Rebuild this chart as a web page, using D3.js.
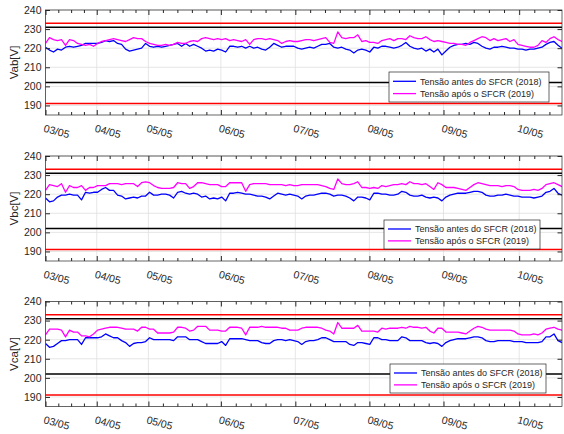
<!DOCTYPE html>
<html>
<head>
<meta charset="utf-8">
<script src="https://cdn.jsdelivr.net/npm/d3@7"></script>
<style>
  body { margin: 0; background: #fff; }
  text { font-family: "Liberation Sans", Arial, sans-serif; fill: #262626; }
</style>
</head>
<body>
<script>
// day tick labels and where they fall on the sample index axis
const dayLabels = ['03/05', '04/05', '05/05', '06/05', '07/05', '08/05', '09/05', '10/05'];
const dayTicks = [0, 12.8, 25.7, 43.8, 62.4, 80.9, 99.4, 118.3];
const yTicks = [190, 200, 210, 220, 230, 240];

// PRODIST limits
const redLimits = [191, 233];
const blackLimits = [202, 231];

const legendNames = ['Tensão antes do SFCR (2018)', 'Tensão após o SFCR (2019)'];

// Vab
const vabBefore = [220.5,219,218,219.5,219,220.5,221,220.5,221,221.5,222.5,222.5,222.5,222.5,223,224,223.5,224,222.5,222,
  219.5,218.5,219,219.5,220,222.5,221,220.5,221,220.5,221,221.5,222,222.5,221,222.5,221,222,221,220,
  218.5,219,218.5,219.5,219,218,221,221,220.5,221,220,221,220,220.5,219.5,219,220.5,222.5,221.5,220.5,
  221,221,221,220,219.5,220,220.5,220,221,222,222,222.5,220.5,220,220.5,219.5,219,217.5,219,219.5,
  219,218,220.5,220,221,221,220.5,220,220.5,221.5,223,221,220,219.5,220,218.5,219.5,218,219.5,216.5,
  218.5,220.5,221.5,222,222,222.5,222,223,222.5,221,220,219.5,220.5,220.5,221,220.5,220,220,219.5,219.5,
  219,219.5,219.5,220,220.5,222,223,223.5,221.5,220];
const vabAfter = [222.5,225.5,224.5,224,224.5,221.5,224.5,224,222.5,222,221.5,222,221,222.5,223.5,224,224.5,225,224.5,224,
  223.5,224.5,225.5,225,225,223.5,222.5,222,221.5,221.5,222,221.5,222,223,222.5,222.5,223.5,224,223.5,225,
  225.5,225,224.5,225,224.5,225,224,224.5,224,223.5,224.5,222,224.5,225,225,224.5,225,224.5,224,222.5,
  223.5,224,223.5,223.5,224,224.5,224.5,224,224.5,225,225.5,223,222.5,228.5,225.5,225,225.5,225.5,227,223.5,
  224,223,223,222.5,224,224.5,225,224,225,225,224.5,226.5,225.5,225,225,226,224.5,223.5,224,223.5,
  223,222.5,222.5,222,222,221.5,223,224,225,226,225.5,224,225,224,224.5,225,223.5,224.5,222,221.5,
  221,220.5,220.5,221.5,224,223,225,226,224.5,223.5];

// Vbc
const vbcBefore = [218,216,216.5,218.5,219.5,219.5,220,219.5,219.5,217,221,220.5,221,221,222.5,223.5,222,222,219.5,219,
  217.5,218,218.5,218,219,219,221,219.5,219.5,220,220,219.5,218,221,221.5,220.5,220,220.5,220,218.5,
  219,217.5,218,217.5,218.5,216.5,220.5,220.5,221,220.5,220,220,219.5,219,219,218.5,217.5,219,220.5,220,
  219.5,220,219.5,219,217.5,219,219.5,219.5,220,220.5,220.5,220,219,219.5,219.5,219,218,216.5,218.5,218.5,
  218,217,220.5,220.5,220,220,219.5,219.5,220,221.5,221,219.5,219,219,219.5,218.5,218,218.5,218,216.5,
  218.5,219.5,220,220.5,220.5,220.5,221,221.5,221.5,221,219.5,219,219,219.5,219.5,220,219.5,219,219,218.5,
  218.5,218.5,218,218.5,219,221,221.5,223,220.5,219.5];
const vbcAfter = [222,225,224.5,224,225.5,221,224.5,223.5,223.5,224.5,222,223.5,223.5,224.5,224.5,224.5,225.5,225.5,225.5,225,
  225.5,225.5,225.5,224,226,226.5,226,224.5,223.5,223,223,223,223.5,226,225.5,225.5,223,224,226,226,
  225.5,225,225,225,224,224,226,226,226,226,221.5,225,225.5,225.5,225.5,225.5,225,225,225,225,
  224.5,225,224.5,224.5,225,225,225,225,225,224.5,224,223,222.5,228,225.5,225,225,225.5,226.5,223.5,
  223.5,223,223.5,223,224.5,224,224.5,225,225,225.5,225,226.5,225.5,225.5,225,225.5,224,222.5,226,225,
  223.5,223.5,223.5,223,222.5,222,223.5,225,226,225.5,225,224.5,224.5,224.5,224,224.5,224.5,224,222.5,222,
  222,222,222.5,222,223,225,225.5,226,225,224];

// Vca
const vcaBefore = [218,216,216.5,218,219.5,219.5,220,220,220,217.5,221,221,221,221,221.5,223,222,221,221,219.5,
  218.5,216.5,218,218.5,218.5,219,221,220,220,220,220,220,219.5,221.5,221.5,221.5,220,220,220,219,
  218,218,218,218,219,217,220.5,220.5,220.5,220.5,220,219.5,219.5,219.5,218.5,218,218,219.5,220,220,
  219.5,220,219.5,219,217.5,219,219.5,219.5,220,221,221,220,219,219,219,219,217.5,217,218.5,218.5,
  218,217.5,221,221,220,220,219.5,219.5,219.5,221.5,221,219.5,219.5,219.5,219.5,218.5,218,218.5,218,216.5,
  218.5,219.5,220,220.5,220.5,220.5,221,221.5,221.5,221,219.5,219,219,219.5,219.5,219.5,219.5,219,219,219,
  218.5,218.5,218.5,218.5,219,221.5,221.5,223,219.5,218.5];
const vcaAfter = [222.5,225.5,225.5,225.5,225,221.5,225,224,224,222,222,221.5,223,225,225.5,226,226.5,226.5,226.5,226,
  225.5,225.5,225.5,224.5,226.5,226.5,225.5,225.5,223.5,223.5,223.5,223.5,224,226.5,226.5,226,224.5,225,227,227,
  227,225,225,225,224.5,224.5,226.5,226.5,226.5,226,222.5,226.5,226.5,226.5,227,226.5,226.5,226.5,226.5,226,
  226,225,225,225,226,226.5,226.5,226.5,226.5,226,225,224.5,223,229,226,226,226,226,227.5,224.5,
  224.5,224.5,224.5,224,226,225.5,226,226,226,226.5,226,227,226.5,226.5,226,226.5,224.5,223.5,226,226,
  224,224,224,224,223.5,223,224.5,226,227,226.5,225.5,225,225,225,225,225,225,224.5,223,222.5,
  222.5,222.5,223,222.5,223.5,225.5,226,226.5,225.5,225];

const panels = [
  { name: 'Vab[V]', before: vabBefore, after: vabAfter, top: 10, legend: { x: 389, y: 72, w: 160, h: 30 } },
  { name: 'Vbc[V]', before: vbcBefore, after: vbcAfter, top: 156, legend: { x: 384, y: 220, w: 156, h: 29 } },
  { name: 'Vca[V]', before: vcaBefore, after: vcaAfter, top: 301.5, legend: { x: 390, y: 364, w: 156, h: 29 } }
];

const width = 564, height = 434;
const left = 45.5, right = 562, plotH = 105;
const axisColor = '#262626';
const colors = ['#0000ff', '#ff00ff'];

const svg = d3.select('body').append('svg')
  .attr('width', width)
  .attr('height', height);

const x = d3.scaleLinear().domain([0, vabBefore.length - 1]).range([left, right]);

// minor ticks: split each day into 4 or 5 steps like the original
let minorTicks = [];
for (let i = 0; i < dayTicks.length - 1; i++) {
  const n = (x(dayTicks[i + 1]) - x(dayTicks[i])) < 60 ? 4 : 5;
  const step = (dayTicks[i + 1] - dayTicks[i]) / n;
  for (let k = 1; k < n; k++) minorTicks.push(dayTicks[i] + k * step);
}
const lastStep = (dayTicks[7] - dayTicks[6]) / 5;
for (let v = dayTicks[7] + lastStep; v < x.domain()[1]; v += lastStep) minorTicks.push(v);

panels.forEach((p, pi) => {
  const top = p.top, bottom = top + plotH;
  const y = d3.scaleLinear().domain([185, 240]).range([bottom, top]);
  const g = svg.append('g');

  g.append('clipPath').attr('id', 'clip' + pi)
    .append('rect').attr('x', left).attr('y', top).attr('width', right - left).attr('height', plotH);

  // grid
  g.selectAll('.gy').data(yTicks).enter().append('line')
    .attr('x1', left).attr('x2', right)
    .attr('y1', d => y(d)).attr('y2', d => y(d))
    .attr('stroke', '#dfdfdf').attr('stroke-width', 0.8);
  g.selectAll('.gx').data(dayTicks).enter().append('line')
    .attr('x1', d => x(d)).attr('x2', d => x(d))
    .attr('y1', top).attr('y2', bottom)
    .attr('stroke', '#dfdfdf').attr('stroke-width', 0.8);

  // limits
  blackLimits.forEach(v => {
    g.append('line').attr('x1', left).attr('x2', right).attr('y1', y(v)).attr('y2', y(v))
      .attr('stroke', '#000').attr('stroke-width', 1.5);
  });
  redLimits.forEach(v => {
    g.append('line').attr('x1', left).attr('x2', right).attr('y1', y(v)).attr('y2', y(v))
      .attr('stroke', '#ff0000').attr('stroke-width', 1.5);
  });

  const line = d3.line().x((d, i) => x(i)).y(d => y(d));
  [p.before, p.after].forEach((s, si) => {
    g.append('path').datum(s)
      .attr('clip-path', `url(#clip${pi})`)
      .attr('fill', 'none')
      .attr('stroke', colors[si])
      .attr('stroke-width', 1.3)
      .attr('stroke-linejoin', 'round')
      .attr('d', line);
  });

  // axes with ticks pointing in
  g.append('g').attr('transform', `translate(${left},0)`)
    .call(d3.axisLeft(y).tickValues(yTicks).tickSize(-4.5).tickPadding(4))
    .call(a => a.select('.domain').remove())
    .call(a => a.selectAll('line').attr('stroke', axisColor))
    .call(a => a.selectAll('text').attr('font-size', 10.5).attr('fill', axisColor)
      .style('font-family', '"Liberation Sans", Arial, sans-serif'));
  g.append('g').attr('transform', `translate(${right},0)`)
    .call(d3.axisRight(y).tickValues(yTicks).tickSize(-4.5).tickFormat(''))
    .call(a => a.select('.domain').remove())
    .call(a => a.selectAll('line').attr('stroke', axisColor));

  [[bottom, d3.axisBottom], [top, d3.axisTop]].forEach(([yy, ax]) => {
    g.append('g').attr('transform', `translate(0,${yy})`)
      .call(ax(x).tickValues(dayTicks).tickSize(-5).tickFormat(''))
      .call(a => a.select('.domain').remove())
      .call(a => a.selectAll('line').attr('stroke', axisColor));
    g.append('g').attr('transform', `translate(0,${yy})`)
      .call(ax(x).tickValues(minorTicks).tickSize(-3).tickFormat(''))
      .call(a => a.select('.domain').remove())
      .call(a => a.selectAll('line').attr('stroke', axisColor));
  });

  // rotated day labels
  g.selectAll('.xl').data(dayTicks).enter().append('text')
    .attr('transform', d => `translate(${x(d) - 2.5},${bottom + 16.5}) rotate(15)`)
    .attr('font-size', 10.5)
    .text((d, i) => dayLabels[i]);

  g.append('rect')
    .attr('x', left).attr('y', top).attr('width', right - left).attr('height', plotH)
    .attr('fill', 'none').attr('stroke', axisColor).attr('stroke-width', 0.7);

  g.append('text')
    .attr('transform', `translate(17.5,${(top + bottom) / 2}) rotate(-90)`)
    .attr('text-anchor', 'middle')
    .attr('font-size', 11.5)
    .text(p.name);

  // legend
  const L = p.legend;
  const lg = g.append('g').attr('transform', `translate(${L.x},${L.y})`);
  lg.append('rect').attr('width', L.w).attr('height', L.h)
    .attr('fill', '#fff').attr('stroke', axisColor).attr('stroke-width', 0.7);
  legendNames.forEach((n, i) => {
    const cy = L.h * (i === 0 ? 0.31 : 0.72);
    lg.append('line').attr('x1', 4).attr('x2', 27).attr('y1', cy).attr('y2', cy)
      .attr('stroke', colors[i]).attr('stroke-width', 1.3);
    lg.append('text').attr('x', 31).attr('y', cy + 3.2)
      .attr('font-size', 9).text(n);
  });
});
</script>
</body>
</html>
